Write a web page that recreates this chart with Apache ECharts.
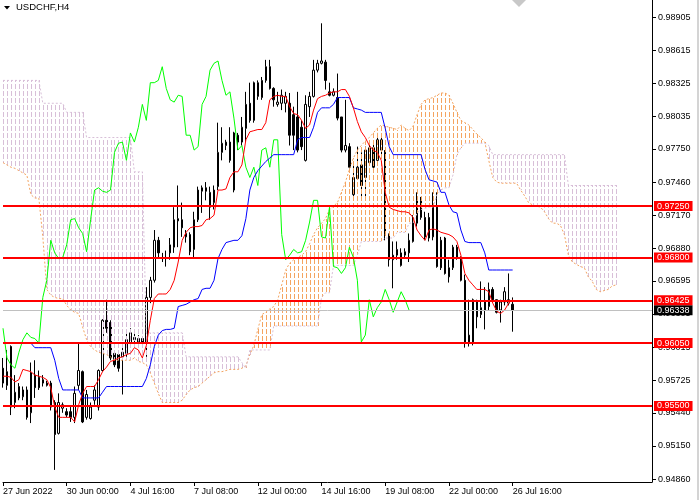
<!DOCTYPE html>
<html><head><meta charset="utf-8">
<script src="https://cdn.jsdelivr.net/npm/echarts@6/dist/echarts.min.js"></script>
<style>html,body{margin:0;padding:0;background:#fff}#c{width:700px;height:500px}</style>
</head><body><div id="c"></div>
<script>
const xTickLabels = ['27 Jun 2022','30 Jun 00:00','4 Jul 16:00','7 Jul 08:00','12 Jul 00:00','14 Jul 16:00','19 Jul 08:00','22 Jul 00:00','26 Jul 16:00'];
const yTickValues = [0.98905,0.98615,0.98325,0.98035,0.97750,0.97460,0.97170,0.96880,0.96595,0.96305,0.96015,0.95725,0.95440,0.95150,0.94860];
const levels = [0.97250,0.96800,0.96425,0.96050,0.95500];
const lastPrice = 0.96338;

const opens = [
0.9583,0.9568,0.9602,0.9553,0.9557,0.9558,0.9564,0.9544,0.9577,0.9575,
0.9570,0.9568,0.9570,0.9553,0.9526,0.9548,0.9545,0.9545,0.9540,0.9568,
0.9580,0.9540,0.9539,0.9555,0.9549,0.9581,0.9625,0.9623,0.9596,0.9595,
0.9593,0.9596,0.9605,0.9608,0.9606,0.9609,0.9605,0.9645,0.9660,0.9695,
0.9680,0.9679,0.9684,0.9689,0.9712,0.9713,0.9698,0.9700,0.9687,0.9713,
0.9738,0.9741,0.9724,0.9728,0.9742,0.9772,0.9778,0.9781,0.9739,0.9787,
0.9781,0.9793,0.9815,0.9800,0.9821,0.9820,0.9835,0.9847,0.9828,0.9814,
0.9815,0.9815,0.9815,0.9805,0.9803,0.9794,0.9765,0.9812,0.9821,0.9844,
0.9850,0.9851,0.9825,0.9822,0.9820,0.9803,0.9774,0.9777,0.9735,0.9749,
0.9761,0.9750,0.9763,0.9776,0.9765,0.9774,0.9772,0.9700,0.9678,0.9682,
0.9673,0.9682,0.9684,0.9694,0.9710,0.9715,0.9715,0.9715,0.9698,0.9724,
0.9695,0.9697,0.9663,0.9671,0.9689,0.9680,0.9660,0.9606,0.9606,0.9641,
0.9630,0.9634,0.9637,0.9652,0.9643,0.9634,0.9641,0.9640,0.9639];
const closes = [
0.9570,0.9580,0.9549,0.9562,0.9567,0.9564,0.9540,0.9579,0.9566,0.9566,
0.9573,0.9570,0.9549,0.9525,0.9553,0.9551,0.9542,0.9540,0.9561,0.9581,
0.9536,0.9560,0.9549,0.9564,0.9581,0.9625,0.9618,0.9592,0.9586,0.9583,
0.9597,0.9608,0.9614,0.9610,0.9609,0.9605,0.9645,0.9660,0.9695,0.9684,
0.9679,0.9680,0.9691,0.9713,0.9714,0.9706,0.9701,0.9685,0.9713,0.9739,
0.9741,0.9738,0.9737,0.9739,0.9772,0.9780,0.9781,0.9765,0.9789,0.9781,
0.9794,0.9814,0.9800,0.9833,0.9833,0.9835,0.9847,0.9828,0.9818,0.9816,
0.9822,0.9821,0.9787,0.9787,0.9774,0.9777,0.9814,0.9821,0.9844,0.9850,
0.9852,0.9835,0.9822,0.9825,0.9802,0.9774,0.9778,0.9759,0.9750,0.9759,
0.9743,0.9774,0.9776,0.9759,0.9783,0.9783,0.9700,0.9678,0.9682,0.9687,
0.9684,0.9685,0.9695,0.9711,0.9730,0.9730,0.9698,0.9697,0.9724,0.9672,
0.9671,0.9666,0.9671,0.9689,0.9680,0.9660,0.9606,0.9612,0.9643,0.9628,
0.9636,0.9641,0.9652,0.9643,0.9632,0.9641,0.9650,0.9643,0.96338];
const lows = [
0.9566,0.9564,0.9542,0.9548,0.9555,0.9555,0.9538,0.9535,0.9557,0.9564,
0.9567,0.9567,0.9546,0.9494,0.9525,0.9544,0.9540,0.9536,0.9535,0.9564,
0.9535,0.9538,0.9538,0.9551,0.9546,0.9580,0.9614,0.9590,0.9584,0.9580,
0.9560,0.9593,0.9603,0.9605,0.9603,0.9602,0.9593,0.9640,0.9658,0.9680,
0.9676,0.9672,0.9678,0.9684,0.9689,0.9698,0.9693,0.9682,0.9680,0.9711,
0.9719,0.9730,0.9713,0.9722,0.9739,0.9765,0.9774,0.9763,0.9737,0.9774,
0.9778,0.9781,0.9798,0.9798,0.9818,0.9818,0.9833,0.9827,0.9812,0.9812,
0.9809,0.9807,0.9778,0.9774,0.9772,0.9774,0.9764,0.9803,0.9820,0.9842,
0.9849,0.9827,0.9821,0.9821,0.9800,0.9772,0.9772,0.9758,0.9733,0.9748,
0.9733,0.9733,0.9761,0.9757,0.9761,0.9770,0.9695,0.9672,0.9653,0.9678,
0.9672,0.9680,0.9676,0.9693,0.9707,0.9713,0.9695,0.9694,0.9695,0.9671,
0.9669,0.9665,0.9658,0.9669,0.9678,0.9659,0.9601,0.9602,0.9603,0.9618,
0.9627,0.9617,0.9634,0.9641,0.9631,0.9623,0.9638,0.9638,0.9615];
const highs = [
0.9592,0.9599,0.9603,0.9577,0.9570,0.9567,0.9567,0.9588,0.9590,0.9581,
0.9577,0.9572,0.9572,0.9555,0.9561,0.9553,0.9548,0.9549,0.9567,0.9605,
0.9581,0.9564,0.9553,0.9568,0.9582,0.9626,0.9643,0.9625,0.9597,0.9596,
0.9603,0.9615,0.9618,0.9617,0.9612,0.9610,0.9654,0.9663,0.9704,0.9698,
0.9684,0.9686,0.9697,0.9724,0.9743,0.9728,0.9704,0.9702,0.9720,0.9742,
0.9743,0.9746,0.9742,0.9743,0.9798,0.9794,0.9783,0.9794,0.9790,0.9789,
0.9803,0.9825,0.9833,0.9834,0.9835,0.9838,0.9853,0.9853,0.9829,0.9825,
0.9827,0.9825,0.9824,0.9812,0.9825,0.9800,0.9822,0.9825,0.9853,0.9853,
0.9885,0.9853,0.9833,0.9828,0.9841,0.9803,0.9818,0.9780,0.9763,0.9777,
0.9772,0.9777,0.9780,0.9780,0.9789,0.9787,0.9774,0.9701,0.9694,0.9694,
0.9688,0.9688,0.9701,0.9717,0.9737,0.9733,0.9720,0.9719,0.9737,0.9737,
0.9698,0.9698,0.9678,0.9691,0.9691,0.9681,0.9665,0.9643,0.9644,0.9643,
0.9659,0.9654,0.9658,0.9654,0.9643,0.9643,0.9654,0.9666,0.9645];

const tenkan = [
0.9576,0.9576,0.9575,0.9571,0.9573,0.9582,0.9581,0.9580,0.9577,0.9576,
0.9575,0.9573,0.9566,0.9549,0.9540,0.9540,0.9540,0.9540,0.9536,0.9551,
0.9561,0.9567,0.9567,0.9567,0.9573,0.9580,0.9584,0.9589,0.9590,0.9592,
0.9593,0.9595,0.9596,0.9601,0.9599,0.9592,0.9603,0.9625,0.9644,0.9648,
0.9648,0.9648,0.9652,0.9660,0.9676,0.9695,0.9702,0.9706,0.9707,0.9707,
0.9708,0.9713,0.9714,0.9717,0.9739,0.9739,0.9740,0.9750,0.9755,0.9755,
0.9761,0.9783,0.9790,0.9791,0.9792,0.9792,0.9798,0.9818,0.9821,0.9822,
0.9821,0.9821,0.9812,0.9806,0.9805,0.9800,0.9793,0.9796,0.9809,0.9819,
0.9821,0.9822,0.9824,0.9825,0.9825,0.9827,0.9827,0.9821,0.9811,0.9799,
0.9790,0.9785,0.9778,0.9774,0.9772,0.9765,0.9737,0.9724,0.9722,0.9721,
0.9720,0.9720,0.9719,0.9715,0.9704,0.9699,0.9695,0.9704,0.9705,0.9704,
0.9702,0.9701,0.9700,0.9698,0.9694,0.9682,0.9666,0.9660,0.9656,0.9652,
0.9652,0.9652,0.9650,0.9640,0.9633,0.9631,0.9634,0.9640,0.9643];
const kijun = [
0.9605,0.9605,0.9605,0.9605,0.9605,0.9605,0.9605,0.9605,0.9601,0.9601,
0.9601,0.9601,0.9601,0.9590,0.9574,0.9564,0.9564,0.9564,0.9564,0.9564,
0.9557,0.9557,0.9557,0.9557,0.9557,0.9562,0.9567,0.9567,0.9567,0.9567,
0.9567,0.9567,0.9567,0.9567,0.9567,0.9567,0.9574,0.9586,0.9602,0.9612,
0.9616,0.9617,0.9617,0.9618,0.9637,0.9638,0.9639,0.9641,0.9643,0.9644,
0.9652,0.9653,0.9653,0.9660,0.9679,0.9687,0.9693,0.9694,0.9695,0.9695,
0.9699,0.9714,0.9739,0.9750,0.9756,0.9760,0.9764,0.9767,0.9770,0.9770,
0.9770,0.9770,0.9770,0.9770,0.9783,0.9785,0.9785,0.9785,0.9794,0.9807,
0.9811,0.9811,0.9811,0.9814,0.9820,0.9820,0.9820,0.9820,0.9811,0.9810,
0.9809,0.9807,0.9807,0.9807,0.9807,0.9807,0.9793,0.9777,0.9770,0.9770,
0.9770,0.9770,0.9770,0.9770,0.9770,0.9770,0.9757,0.9748,0.9747,0.9746,
0.9737,0.9737,0.9726,0.9720,0.9719,0.9704,0.9694,0.9693,0.9693,0.9693,
0.9693,0.9684,0.9669,0.9669,0.9669,0.9669,0.9669,0.9669,0.9669];
const spanA = [
0.9763,0.9761,0.9759,0.9758,0.9756,0.9754,0.9752,0.9735,0.9732,0.9732,
0.9698,0.9652,0.9647,0.9645,0.9644,0.9644,0.9638,0.9634,0.9632,0.9631,
0.9619,0.9608,0.9602,0.9599,0.9597,0.9596,0.9595,0.9593,0.9590,0.9590,
0.9590,0.9590,0.9590,0.9592,0.9589,0.9588,0.9586,0.9579,0.9570,0.9561,
0.9553,0.9553,0.9553,0.9553,0.9553,0.9555,0.9560,0.9564,0.9566,0.9567,
0.9570,0.9573,0.9576,0.9579,0.9580,0.9580,0.9581,0.9582,0.9582,0.9582,
0.9583,0.9585,0.9595,0.9603,0.9617,0.9630,0.9632,0.9635,0.9637,0.9643,
0.9656,0.9669,0.9675,0.9678,0.9680,0.9682,0.9685,0.9692,0.9700,0.9706,
0.9710,0.9714,0.9722,0.9725,0.9728,0.9737,0.9746,0.9757,0.9767,0.9774,
0.9778,0.9782,0.9785,0.9789,0.9793,0.9796,0.9795,0.9794,0.9793,0.9792,
0.9796,0.9793,0.9791,0.9795,0.9805,0.9814,0.9818,0.9819,0.9820,0.9822,
0.9824,0.9824,0.9822,0.9815,0.9807,0.9800,0.9798,0.9796,0.9792,0.9788,
0.9785,0.9781,0.9765,0.9750,0.9746,0.9745,0.9745,0.9745,0.9745,0.9745,
0.9739,0.9734,0.9728,0.9726,0.9725,0.9724,0.9720,0.9714,0.9710,0.9710,
0.9708,0.9700,0.9682,0.9676,0.9674,0.9672,0.9671,0.9663,0.9659,0.9652,
0.9650,0.9651,0.9652,0.9655,0.9656];
const spanB = [
0.9835,0.9835,0.9835,0.9835,0.9835,0.9835,0.9835,0.9835,0.9835,0.9835,
0.9815,0.9815,0.9815,0.9815,0.9815,0.9815,0.9807,0.9807,0.9807,0.9807,
0.9807,0.9785,0.9785,0.9785,0.9785,0.9785,0.9785,0.9785,0.9785,0.9785,
0.9785,0.9785,0.9785,0.9755,0.9755,0.9755,0.9614,0.9614,0.9614,0.9614,
0.9614,0.9614,0.9614,0.9614,0.9614,0.9614,0.9593,0.9593,0.9593,0.9593,
0.9593,0.9593,0.9593,0.9593,0.9593,0.9593,0.9593,0.9593,0.9593,0.9593,
0.9588,0.9583,0.9599,0.9599,0.9599,0.9599,0.9599,0.9599,0.9620,0.9620,
0.9620,0.9620,0.9620,0.9620,0.9620,0.9620,0.9620,0.9620,0.9620,0.9620,
0.9645,0.9649,0.9649,0.9673,0.9673,0.9673,0.9673,0.9673,0.9673,0.9682,
0.9694,0.9694,0.9694,0.9694,0.9694,0.9694,0.9697,0.9697,0.9697,0.9702,
0.9702,0.9702,0.9710,0.9710,0.9719,0.9722,0.9723,0.9724,0.9724,0.9735,
0.9739,0.9741,0.9741,0.9752,0.9770,0.9776,0.9780,0.9780,0.9780,0.9780,
0.9780,0.9780,0.9778,0.9770,0.9770,0.9770,0.9770,0.9770,0.9770,0.9770,
0.9770,0.9770,0.9770,0.9770,0.9770,0.9770,0.9770,0.9770,0.9770,0.9770,
0.9770,0.9770,0.9743,0.9743,0.9743,0.9743,0.9743,0.9743,0.9743,0.9743,
0.9743,0.9743,0.9743,0.9743,0.9743];

const chikouShift = 26;
const labelEvery = 16;
const slots = 164;

const cats = [];
for (let i = 0; i < slots; i++) cats.push(String(i));
const ohlc = opens.map((o, i) => [o, closes[i], lows[i], highs[i]]);
const chikou = closes.slice(chikouShift);
const cloud = spanA.map((a, i) => [i, a, spanB[i]]);
const isLabelIdx = (i) => i % labelEvery === 0 && i / labelEvery < xTickLabels.length;

const ORANGE = '#F4A460', THISTLE = '#D8BFD8';
const DASH = 5, PERIOD = 7;
const font = 'Liberation Sans';
const chart = echarts.init(document.getElementById('c'), null, {renderer: 'canvas'});
chart.setOption({
  animation: false,
  backgroundColor: '#ffffff',
  grid: {left: 0, right: 48, top: 0, bottom: 18, containLabel: false},
  xAxis: {
    type: 'category', data: cats, boundaryGap: false,
    axisLine: {show: true, onZero: false, lineStyle: {color: '#000', width: 1}},
    axisTick: {show: true, length: 4, interval: (i) => isLabelIdx(i), lineStyle: {color: '#000'}},
    axisLabel: {show: true, interval: (i) => isLabelIdx(i), formatter: (v, i) => xTickLabels[Math.round(Number(v) / labelEvery)] || '',
      align: 'left', margin: 5, color: '#000', fontSize: 9, fontFamily: font},
    splitLine: {show: false}
  },
  yAxis: {
    type: 'value', position: 'right', min: 0.94834, max: 0.99054,
    axisLine: {show: true, lineStyle: {color: '#000', width: 1}},
    axisTick: {show: true, length: 4, customValues: yTickValues, lineStyle: {color: '#000'}},
    axisLabel: {show: true, customValues: yTickValues, formatter: (v) => Number(v).toFixed(5), margin: 6, color: '#000', fontSize: 9, fontFamily: font},
    splitLine: {show: false}
  },
  series: [
    {type: 'line', data: [], z: 1, silent: true, symbol: 'none',
      markLine: {silent: true, symbol: ['none', 'none'], animation: false, precision: 5,
        lineStyle: {color: '#c0c0c0', width: 1, type: 'solid'},
        label: {show: true, position: 'end', distance: 2, formatter: lastPrice.toFixed(5), color: '#fff', backgroundColor: '#000',
          padding: [1, 3, 0, 3], fontSize: 9, fontFamily: font},
        data: [{yAxis: lastPrice}]}},
    {type: 'candlestick', data: ohlc, barWidth: 2, z: 2, silent: true,
      itemStyle: {color: '#ffffff', color0: '#000000', borderColor: '#000000', borderColor0: '#000000', borderWidth: 1}},
    {type: 'custom', data: cloud, z: 3, silent: true, encode: {x: 0, y: [1, 2]},
      renderItem: function (params, api) {
        const i = api.value(0);
        const pa = api.coord([i, api.value(1)]), pb = api.coord([i, api.value(2)]);
        const x = Math.round(pa[0]);
        const fill = pa[1] <= pb[1] ? ORANGE : THISTLE;
        const top = Math.round(Math.min(pa[1], pb[1])), bot = Math.round(Math.max(pa[1], pb[1]));
        const children = [];
        for (let y = top - (top % PERIOD); y < bot; y += PERIOD) {
          const y0 = Math.max(y, top), y1 = Math.min(y + DASH, bot);
          if (y1 > y0) children.push({type: 'rect', shape: {x: x, y: y0, width: 1, height: y1 - y0}, style: {fill: fill}});
        }
        return {type: 'group', children: children};
      }},
    {type: 'line', data: spanA, z: 3, silent: true, symbol: 'none', lineStyle: {color: ORANGE, width: 1, type: [2, 2]}},
    {type: 'line', data: spanB, z: 3, silent: true, symbol: 'none', lineStyle: {color: THISTLE, width: 1, type: [2, 2]}},
    {type: 'line', data: chikou, z: 4, silent: true, symbol: 'none', lineStyle: {color: '#00FF00', width: 1}},
    {type: 'line', data: kijun, z: 4, silent: true, symbol: 'none', lineStyle: {color: '#0000FF', width: 1}},
    {type: 'line', data: tenkan, z: 4, silent: true, symbol: 'none', lineStyle: {color: '#FF0000', width: 1}},
    {type: 'line', data: [], z: 6, silent: true, symbol: 'none',
      markLine: {silent: true, symbol: ['none', 'none'], animation: false, precision: 5,
        lineStyle: {color: '#FF0000', width: 2, type: 'solid'},
        label: {show: true, position: 'end', distance: 2, color: '#fff', backgroundColor: '#FF0000',
          padding: [1, 3, 0, 3], fontSize: 9, fontFamily: font},
        data: levels.map(v => ({yAxis: v, label: {formatter: v.toFixed(5)}}))}}
  ],
  graphic: [
    {type: 'polygon', shape: {points: [[4, 6], [10, 6], [7, 9.5]]}, style: {fill: '#000'}, z: 10},
    {type: 'text', x: 16, y: 7, style: {text: 'USDCHF,H4', fill: '#000', font: '9.5px "Liberation Sans"', verticalAlign: 'middle'}, z: 10},
    {type: 'polygon', shape: {points: [[512, 0], [526, 0], [519, 7]]}, style: {fill: '#c8c8c8'}, z: 10},
    {type: 'rect', shape: {x: 697, y: 0, width: 2, height: 500}, style: {fill: '#d4d4d4'}, z: 10}
  ]
});
</script></body></html>
